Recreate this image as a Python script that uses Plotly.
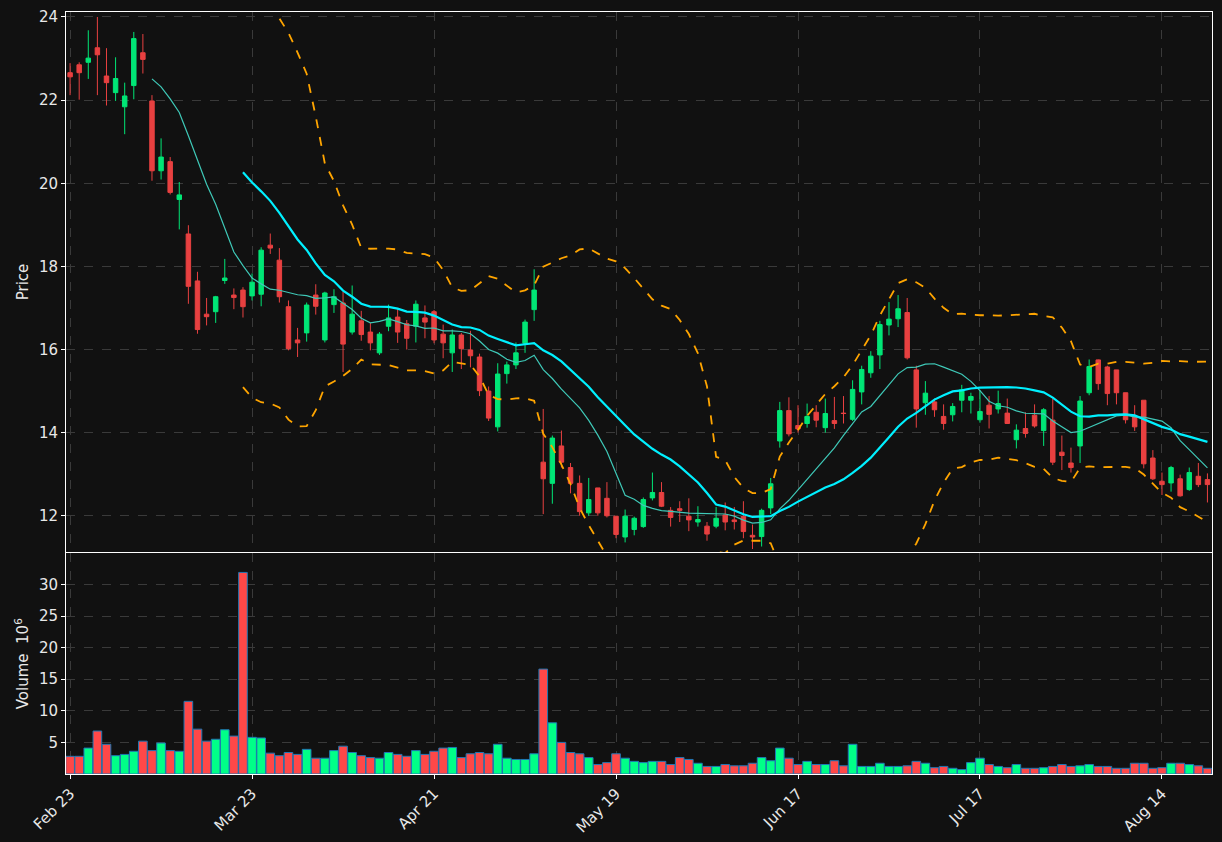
import pandas as pd
import plotly.graph_objects as go
from plotly.subplots import make_subplots

# OHLC, one entry per trading day
opens = [22.66, 22.85, 22.91, 23.26, 22.58, 22.18, 21.84, 22.35, 23.14, 21.98,
         20.30, 20.52, 19.61, 18.78, 17.65, 16.85, 16.91, 17.66, 17.31, 17.43,
         17.29, 17.33, 18.51, 18.15, 17.03, 16.23, 16.40, 17.31, 16.23, 17.08,
         17.12, 16.42, 16.69, 16.42, 15.92, 16.56, 16.78, 16.62, 16.56, 16.76,
         16.91, 16.37, 15.92, 16.35, 15.99, 15.82, 15.00, 14.14, 15.42, 15.63,
         16.15, 16.96, 13.29, 12.78, 13.68, 13.16, 12.78, 12.07, 12.67, 12.42,
         11.99, 11.49, 11.67, 11.74, 12.43, 12.56, 12.13, 12.17, 11.99, 11.85,
         11.75, 11.75, 12.02, 11.90, 11.99, 11.53, 11.50, 12.19, 13.80, 14.53,
         14.17, 14.22, 14.49, 14.12, 14.29, 14.47, 14.32, 14.98, 15.44, 15.87,
         16.59, 16.74, 16.89, 15.51, 14.72, 14.74, 14.39, 14.43, 14.78, 14.78,
         14.31, 14.66, 14.57, 14.47, 13.83, 14.10, 14.42, 14.05, 14.30, 13.53,
         13.27, 13.68, 14.96, 15.75, 15.58, 15.51, 14.96, 14.38, 14.78, 13.39,
         12.83, 12.79, 12.89, 12.63, 12.95, 12.87]
highs = [22.89, 22.91, 23.68, 24.00, 23.25, 23.03, 22.42, 23.64, 23.59, 22.12,
         21.08, 20.63, 20.03, 18.99, 17.87, 17.24, 17.29, 18.18, 17.47, 17.50,
         17.83, 18.46, 18.79, 18.44, 17.18, 16.52, 17.13, 17.57, 17.39, 17.45,
         17.39, 17.54, 16.93, 16.64, 16.42, 17.08, 16.97, 16.71, 17.18, 17.06,
         16.95, 16.60, 16.48, 16.40, 16.45, 15.90, 15.11, 15.67, 15.71, 16.17,
         16.72, 17.93, 14.57, 13.93, 14.05, 13.27, 12.97, 12.91, 12.67, 12.81,
         11.99, 12.15, 11.98, 12.44, 13.04, 12.81, 12.21, 12.35, 12.42, 12.23,
         11.85, 12.21, 12.32, 12.21, 12.35, 11.79, 12.17, 12.91, 14.74, 14.85,
         14.66, 14.70, 14.66, 14.82, 14.86, 14.88, 15.26, 15.61, 15.96, 16.69,
         17.14, 17.31, 17.24, 15.61, 15.24, 14.82, 14.68, 14.71, 15.15, 14.96,
         15.03, 14.88, 15.01, 14.82, 14.20, 14.49, 14.68, 14.59, 14.82, 13.93,
         13.64, 14.88, 15.76, 15.76, 15.61, 15.51, 14.96, 14.66, 14.78, 13.58,
         13.04, 13.20, 12.99, 13.16, 13.27, 13.02]
lows = [22.12, 22.01, 22.51, 22.12, 21.87, 21.98, 21.18, 22.02, 22.64, 20.06,
        20.09, 19.73, 18.89, 17.10, 16.38, 16.58, 16.64, 17.58, 16.97, 16.77,
        17.18, 17.04, 18.30, 17.13, 15.98, 15.82, 16.19, 16.84, 16.17, 16.88,
        15.46, 16.36, 16.21, 15.98, 15.87, 16.44, 16.16, 16.00, 16.17, 16.27,
        16.15, 15.79, 15.46, 15.53, 15.57, 14.88, 14.28, 14.03, 15.18, 15.53,
        15.92, 16.69, 12.04, 12.29, 13.16, 12.54, 12.00, 12.00, 12.00, 11.96,
        11.46, 11.36, 11.53, 11.71, 12.37, 12.21, 11.74, 11.85, 11.63, 11.74,
        11.40, 11.70, 11.65, 11.67, 11.46, 11.20, 11.26, 12.04, 13.64, 13.91,
        14.00, 14.12, 14.13, 14.00, 14.09, 14.22, 14.28, 14.68, 15.32, 15.53,
        16.34, 16.54, 15.76, 14.12, 14.43, 14.38, 14.07, 14.27, 14.49, 14.46,
        14.24, 14.10, 14.46, 14.22, 13.62, 13.88, 14.12, 13.68, 13.22, 13.10,
        13.04, 13.27, 14.90, 15.03, 14.66, 14.68, 14.22, 14.04, 13.14, 12.86,
        12.50, 12.58, 12.46, 12.60, 12.69, 12.32]
closes = [22.56, 22.66, 23.01, 23.09, 22.42, 22.52, 22.10, 23.48, 22.98, 20.30,
          20.63, 19.78, 19.72, 17.52, 16.48, 16.79, 17.27, 17.72, 17.25, 17.03,
          17.62, 18.39, 18.44, 17.27, 16.02, 16.16, 17.07, 17.04, 17.36, 17.27,
          16.13, 16.85, 16.36, 16.16, 16.37, 16.76, 16.42, 16.27, 17.09, 16.66,
          16.23, 16.16, 16.35, 16.02, 15.85, 15.01, 14.35, 15.41, 15.63, 15.92,
          16.66, 17.43, 12.89, 13.87, 13.29, 12.78, 12.10, 12.39, 12.07, 12.00,
          11.55, 11.99, 11.94, 12.39, 12.56, 12.23, 11.96, 12.13, 11.90, 11.91,
          11.56, 11.94, 11.85, 11.86, 11.62, 11.49, 12.13, 12.77, 14.53, 13.97,
          14.09, 14.39, 14.30, 14.46, 14.22, 14.46, 15.04, 15.52, 15.84, 16.60,
          16.73, 16.98, 15.80, 14.57, 14.95, 14.55, 14.22, 14.63, 15.03, 14.87,
          14.51, 14.44, 14.70, 14.22, 14.06, 13.98, 14.16, 14.55, 13.29, 13.45,
          13.16, 14.76, 15.59, 15.18, 14.94, 14.96, 14.31, 14.14, 13.25, 12.89,
          12.75, 13.16, 12.48, 13.04, 12.75, 12.75]
# volume in millions
volumes = [2.8, 2.8, 4.1, 6.8, 4.7, 2.9, 3.1, 3.6, 5.2, 3.7,
           4.9, 3.7, 3.6, 11.5, 7.1, 5.2, 5.5, 7.0, 6.0, 31.9,
           5.8, 5.7, 3.3, 2.9, 3.4, 3.1, 3.9, 2.5, 2.5, 3.7,
           4.4, 3.4, 2.9, 2.6, 2.5, 3.4, 3.1, 2.8, 3.7, 3.1,
           3.6, 4.1, 4.2, 2.6, 3.2, 3.4, 3.2, 4.7, 2.5, 2.3,
           2.3, 3.2, 16.6, 8.1, 5.0, 3.4, 3.2, 2.6, 1.5, 1.8,
           3.2, 2.5, 2.0, 1.8, 2.0, 2.0, 1.5, 2.6, 2.3, 1.7,
           1.2, 1.2, 1.5, 1.3, 1.3, 1.7, 2.6, 2.1, 4.1, 2.5,
           1.5, 2.0, 1.5, 1.5, 2.1, 1.3, 4.7, 1.2, 1.2, 1.7,
           1.2, 1.2, 1.3, 2.0, 1.7, 1.0, 1.2, 0.9, 0.7, 1.8,
           2.5, 1.5, 1.2, 1.0, 1.5, 0.9, 0.9, 1.0, 1.2, 1.5,
           1.2, 1.3, 1.5, 1.2, 1.2, 0.9, 0.9, 1.7, 1.7, 0.9,
           1.0, 1.7, 1.7, 1.5, 1.3, 0.9]
tick_pos = [0, 20, 40, 60, 80, 100, 120]
tick_labels = ["Feb 23", "Mar 23", "Apr 21", "May 19", "Jun 17", "Jul 17", "Aug 14"]

UP = "#00e676"
DOWN = "#e84040"
idx = list(range(len(closes)))

close_s = pd.Series(closes)
ma10 = close_s.rolling(10).mean()
ma20 = close_s.rolling(20).mean()
sd20 = close_s.rolling(20).std()
upper = ma20 + 2 * sd20
lower = ma20 - 2 * sd20

fig = make_subplots(rows=2, cols=1, shared_xaxes=True, vertical_spacing=0.002,
                    row_heights=[0.71, 0.29])

fig.add_trace(go.Candlestick(
    x=idx, open=opens, high=highs, low=lows, close=closes,
    increasing=dict(line=dict(color=UP, width=1), fillcolor=UP),
    decreasing=dict(line=dict(color=DOWN, width=1), fillcolor=DOWN),
    whiskerwidth=0, showlegend=False), row=1, col=1)

fig.add_trace(go.Scatter(x=idx, y=ma10, mode="lines",
                         line=dict(color="#3fc9b8", width=1.2), showlegend=False), row=1, col=1)
fig.add_trace(go.Scatter(x=idx, y=ma20, mode="lines",
                         line=dict(color="#00f0ff", width=2.2), showlegend=False), row=1, col=1)
for band in (upper, lower):
    fig.add_trace(go.Scatter(x=idx, y=band, mode="lines",
                             line=dict(color="#ffa500", width=1.8, dash="dash"),
                             showlegend=False), row=1, col=1)

vol_colors = ["#00ff88" if c >= o else "#ff4848" for o, c in zip(opens, closes)]
fig.add_trace(go.Bar(x=idx, y=volumes, marker=dict(color=vol_colors,
                     line=dict(color="#1f77b4", width=1)), showlegend=False), row=2, col=1)

axis_style = dict(showline=True, linecolor="white", linewidth=1, mirror=True,
                  gridcolor="#3a3a3a", griddash="dash", zeroline=False,
                  tickfont=dict(color="#e8e8e8", size=15), ticks="outside",
                  tickcolor="white", ticklen=4)
fig.update_xaxes(**axis_style, range=[-0.45, 125.5], rangeslider_visible=False,
                 tickvals=tick_pos, ticktext=tick_labels)
fig.update_xaxes(showticklabels=False, row=1, col=1)
fig.update_xaxes(tickangle=-45, row=2, col=1)
fig.update_yaxes(**axis_style)
fig.update_yaxes(range=[11.13, 24.12], tickvals=[12, 14, 16, 18, 20, 22, 24],
                 title=dict(text="Price", font=dict(color="#e8e8e8", size=15), standoff=6),
                 row=1, col=1)
fig.update_yaxes(range=[0, 34.9], tickvals=[5, 10, 15, 20, 25, 30],
                 title=dict(text="Volume  10<sup>6</sup>", font=dict(color="#e8e8e8", size=15),
                            standoff=6), row=2, col=1)

fig.update_layout(width=1222, height=842, paper_bgcolor="#111111", plot_bgcolor="#111111",
                  margin=dict(l=66, r=10, t=12, b=68, autoexpand=False), bargap=0.05,
                  font=dict(family="DejaVu Sans", color="#e8e8e8"))
fig.write_html("out.html", config={"displayModeBar": False},
               post_script="document.body.style.margin='0';document.body.style.background='#111111';")
